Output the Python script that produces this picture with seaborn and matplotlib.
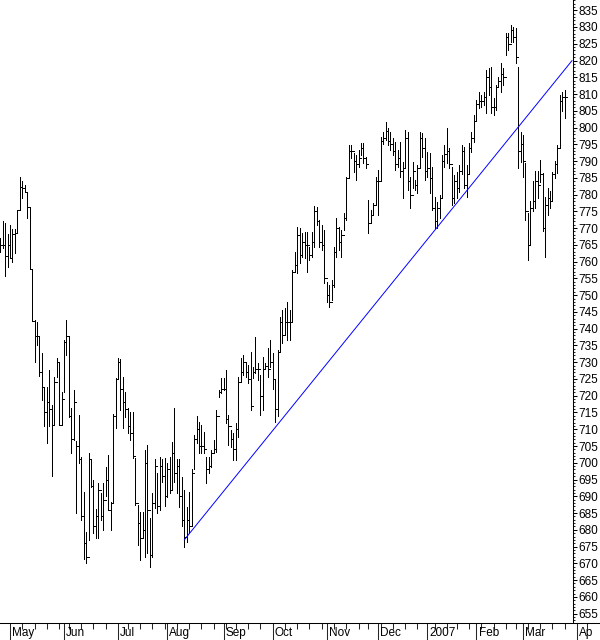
import numpy as np
import pandas as pd
import seaborn as sns
import matplotlib
matplotlib.use('Agg')
import matplotlib.pyplot as plt
from matplotlib.ticker import MultipleLocator, FixedLocator, NullFormatter
from matplotlib.transforms import Bbox, TransformedBbox

# trading calendar: business days minus market holidays
first_day = '2006-04-25'
holidays = ['2006-05-29', '2006-07-04', '2006-09-04', '2006-11-23', '2006-12-25',
            '2007-01-01', '2007-01-02', '2007-01-15', '2007-02-19', '2007-04-06']

# daily bars, one row per month (Apr 06 ... Mar 07)
bar_high = [
    767, 772, 771.5, 768.3,
    771, 769.6, 769.6, 775.4, 785.3, 784.2, 782.9, 780.8, 776.3, 757.8, 742.6, 742, 737.9, 732.8, 722.6, 722.6, 727.7, 717.3, 725.6, 731.3, 729.8, 721,
    736.7, 742.6, 737.9, 716.4, 721.8, 706.5, 714.3, 701.8, 691.3, 679.4, 703, 701, 695, 686.3, 694, 691, 694, 698.8, 702.4, 688.4, 714.6, 725.3,
    731.3, 731, 725.6, 721, 716.4, 715, 715, 701.5, 687.5, 685.4, 685.4, 703.9, 705.4, 683.6, 691, 701, 697, 701.8, 701, 701.5,
    700, 701.8, 706.2, 716.4, 701, 701, 695.8, 692, 686.9, 691.3, 698, 708.3, 714, 712.2, 711.3, 709.2, 701.8, 701.8, 703.9, 706.8, 715.8, 721.8, 725.3,
    725.3, 727.7, 714.3, 709.8, 708.9, 711.9, 725.6, 731.3, 732.2, 729.8, 729.2, 733.1, 728.6, 737.6, 729.8, 726.2, 731.6, 729.8, 734.3, 736.7,
    732.8, 725, 733.7, 743.5, 745.6, 746.2, 748, 745.6, 757.5, 762.9, 770.4, 770, 768.6, 768.9, 768.9, 764.4, 768.9, 776.6, 776.3, 772.4, 771, 769.5,
    754, 753, 754.6, 764.4, 773, 770.4, 769.5, 774.5, 785.3, 794.8, 794.8, 792.4, 791.8, 793.3, 795.4, 795.4, 791.2, 778.4, 775.4, 777.5, 785.3,
    787.4, 797.2, 798.7, 801.7, 799.9, 798.7, 796.9, 795.7, 793.3, 795.7, 789.7, 799.3, 798.7, 785.3, 789.7, 784.4, 788.8, 798.7, 798.4, 796.9,
    792.7, 792.4, 788.3, 779.3, 777.8, 780, 791.8, 794.8, 799.9, 793.9, 788.3, 785.9, 786.8, 788.8, 794.8, 794.2, 788.8, 795.4, 798.7, 803.8,
    808.2, 810.6, 809.7, 810.6, 817.2, 817.8, 818.1, 808.8, 812.7, 815.1, 819.3, 817.8, 828.2, 828.2, 830.6, 830, 829.7, 818, 798.7,
    797.8, 789.4, 774.5, 778, 784, 787, 787, 790.3, 786.5, 779.3, 782, 781, 786.8, 790, 794.8, 809.7, 810.5, 811.2,
]
bar_low = [
    763, 764.2, 755.7, 758.5,
    761, 760, 762.6, 768.6, 775.4, 779, 780.8, 773, 757.8, 742.3, 730, 735, 726, 718.8, 711, 706, 711, 696, 711.3, 725.6, 711.3, 711.3,
    721, 732.2, 713.7, 703, 706.8, 685, 700, 683, 671.4, 670.2, 677, 692.8, 679, 677.6, 677.6, 683, 680, 690, 686, 680, 688.4, 710.4,
    725.3, 715.8, 710.4, 713.7, 709, 706.8, 701.5, 687.5, 675.5, 671, 677.6, 672, 673, 669, 672, 686.6, 685, 686, 694.3, 687,
    689.8, 691, 692, 694.3, 691, 686.7, 681, 675, 676.4, 679, 681, 698, 706, 703, 703, 703, 694, 697, 698.8, 703.3, 703.3, 719.7, 720.9,
    721.8, 711.9, 705.4, 704.8, 700.9, 700.9, 707.7, 724.1, 726.2, 725.6, 723.8, 715.8, 725.3, 726.8, 724.7, 714.3, 715.8, 728.3, 725.6, 728.6,
    722, 712.3, 714, 733, 735.8, 738, 736.7, 736.7, 742, 757, 756.6, 759.6, 761.4, 761, 757, 760.5, 761.4, 764.4, 771, 764.4, 763.5, 753.7,
    748, 746.5, 748.6, 752.5, 761.4, 763.5, 761.4, 769.5, 772.4, 785, 791, 786.8, 784.4, 788.3, 791.8, 789.4, 788, 768.6, 771.5, 774, 777,
    774, 784, 795, 796.3, 794.8, 793.3, 791.8, 787.4, 788.3, 785.3, 779, 788, 781.4, 776, 782, 781.4, 780.5, 788, 791.2, 784.4,
    785.3, 780.5, 775.4, 770, 770, 773, 779, 788.3, 789.4, 788, 776.9, 777.5, 779, 780.8, 786, 782, 779.3, 786, 792.7, 795.7,
    802, 805.8, 806.1, 806.7, 804.4, 809.7, 804.4, 803.8, 805.2, 812, 810.6, 812.7, 821.7, 823.1, 825.5, 825.5, 819.3, 788, 789.7,
    785.3, 772.4, 760.5, 765, 775, 776, 779, 783.8, 769, 761.4, 774, 776, 778, 785, 786.5, 794, 805, 802.9,
]
bar_close = [
    765, 765, 761.7, 765,
    761.1, 768.3, 768.6, 775.4, 782.3, 782, 780.8, 776.3, 757.8, 742.3, 737.9, 737.9, 727, 722.6, 715, 718, 716, 711.3, 724, 730, 711.3, 719,
    736, 737.9, 714, 707, 718, 705, 701, 684, 676, 672, 701, 693, 681, 684, 692, 684, 689, 695, 686, 688, 714, 725,
    730, 722, 718, 716, 711, 709, 702, 688, 682, 677.6, 680, 700, 686, 672.5, 688, 699, 687, 699, 696, 690,
    698, 692, 703, 697, 699, 690, 683, 678, 683, 681, 697, 707, 710, 705, 705, 704, 698, 699, 703, 704, 714, 721, 722,
    722, 713, 711, 707, 704, 710, 724, 727, 730, 727, 725, 717, 727, 728, 728, 720, 728, 729, 728, 730,
    725, 716, 733, 742, 738, 742, 742, 742, 757, 759, 768, 762, 766, 765, 765, 762, 766, 775, 772, 766, 765, 755,
    750, 748, 753, 763, 770, 766, 768, 773, 785, 793, 793, 790, 789, 791, 794, 791, 789, 771.5, 774, 777, 784,
    784, 796, 797, 799, 796, 795, 793, 789, 791, 787, 788, 797, 784, 780, 787, 783, 788, 797, 794, 787,
    788, 785, 776, 772, 776, 779, 790, 792, 793, 789, 779, 784, 782, 787, 793, 783, 786, 794, 797, 802,
    807, 808, 808, 809, 815, 812, 806, 806, 812, 814, 816, 815, 827, 825, 829, 827, 821, 793, 795,
    790, 775, 765, 776, 778, 784, 783, 786, 770, 777, 779, 778, 786, 789, 794, 808, 809, 809,
]

month_labels = ['May', 'Jun', 'Jul', 'Aug', 'Sep', 'Oct', 'Nov', 'Dec', '2007', 'Feb', 'Mar', 'Apr']
month_starts = ['2006-05-01', '2006-06-01', '2006-07-03', '2006-08-01', '2006-09-01', '2006-10-02',
                '2006-11-01', '2006-12-01', '2007-01-03', '2007-02-01', '2007-03-01', '2007-04-02']

# support line drawn under the Aug lows
trend_dates = ['2006-08-10', '2007-03-29']
trend_values = [677.0, 820.0]

days = pd.bdate_range(first_day, '2007-04-13')
days = days[~days.isin(pd.to_datetime(holidays))]
pos = pd.Series(np.arange(len(days)), index=days)

df = pd.DataFrame({'high': bar_high, 'low': bar_low, 'close': bar_close})
df['date'] = days[:len(df)]
df['x'] = pos[df['date']].values

sns.set_style('white')
plt.rcParams['font.family'] = ['Liberation Sans', 'DejaVu Sans']

fig = plt.figure(figsize=(6, 6.4), dpi=100)
ax = fig.add_axes([0, 17 / 640, 1, 623 / 640])

ax.vlines(df['x'], df['low'], df['high'], color='black', lw=0.6, antialiased=False)
ax.hlines(df['close'], df['x'], df['x'] + 1, color='black', lw=0.6, antialiased=False)

trend = pd.DataFrame({'x': pos[pd.to_datetime(trend_dates)].values, 'y': trend_values})
sns.lineplot(data=trend, x='x', y='y', ax=ax, color='#0000ff', lw=0.7)

# x runs 2.4545 px per trading day, May 1 at px 10
px_per_day = 567 / 231
x0 = pos[pd.Timestamp('2006-05-01')]
ax.set_xlim(x0 - 10 / px_per_day, x0 + 590 / px_per_day)
ax.set_ylim(652.2, 838.05)
ax.set_xlabel('')
ax.set_ylabel('')

for s in ['left', 'top']:
    ax.spines[s].set_visible(False)
ax.spines['right'].set_position(('axes', 573 / 600))
for s in ['right', 'bottom']:
    ax.spines[s].set_color('black')
    ax.spines[s].set_linewidth(0.75)

ax.yaxis.tick_right()
ax.yaxis.set_major_locator(MultipleLocator(5))
ax.yaxis.set_minor_locator(MultipleLocator(1))
ax.tick_params(axis='y', which='major', direction='out', length=3.2, width=0.75,
               pad=0.5, labelsize=8.5, colors='black')
ax.tick_params(axis='y', which='minor', direction='out', length=1.6, width=0.75)

mpos = pos[pd.to_datetime(month_starts)].values
wk = pd.Series(days.isocalendar().week.values, index=days)
week_first = pos[wk.ne(wk.shift())].values
week_first = [p for p in week_first if p not in set(mpos)]
ax.xaxis.set_major_locator(FixedLocator(mpos))
ax.xaxis.set_minor_locator(FixedLocator(week_first))
ax.xaxis.set_major_formatter(NullFormatter())
ax.tick_params(axis='x', which='major', direction='out', length=12.5, width=0.75, bottom=True)
ax.tick_params(axis='x', which='minor', direction='out', length=4.5, width=0.75, bottom=True)

# month names sit right of their tick; the last one is cut at the chart edge
label_clip = TransformedBbox(Bbox([[0, 0], [593 / 600, 1]]), fig.transFigure)
for p, lab in zip(mpos, month_labels):
    t = ax.text(p + 0.9, -4 / 623, lab, transform=ax.get_xaxis_transform(),
                ha='left', va='top', fontsize=8.5, color='black')
    t.set_clip_on(True)
    t.set_clip_box(label_clip)

fig.savefig('out.png', dpi=100)
